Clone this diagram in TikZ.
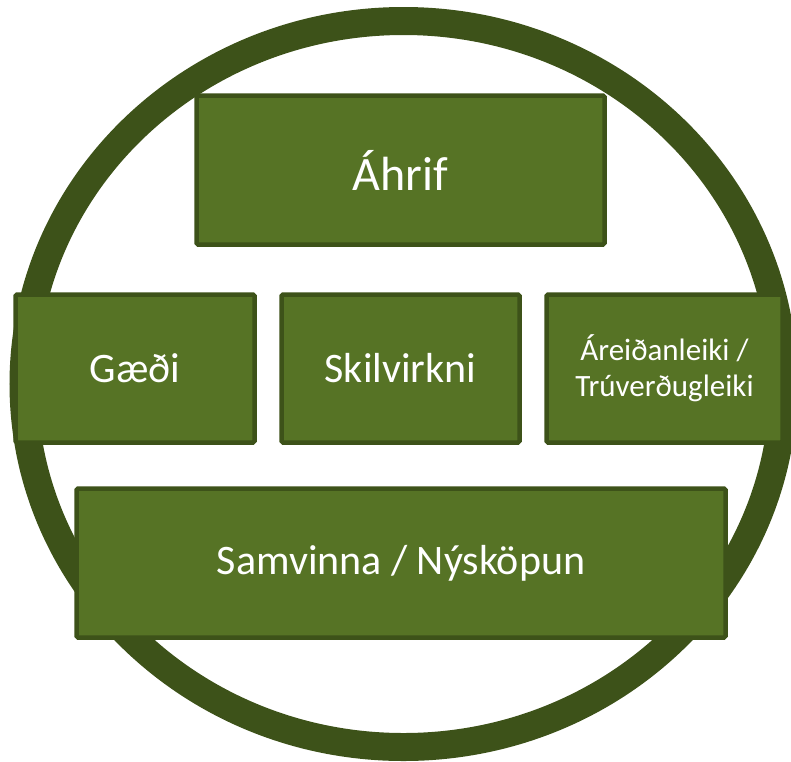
\documentclass[tikz,border=0pt]{standalone}
\usepackage{fontspec}
\setmainfont{Carlito}
\usepackage{xcolor}
\usepackage{tikz}
\definecolor{ringgreen}{HTML}{3D5219}
\definecolor{boxgreen}{HTML}{567325}
\definecolor{labwhite}{HTML}{FFFFFF}
\tikzset{
  ring/.style={draw=ringgreen, line width=28pt},
  box/.style={draw=ringgreen, fill=boxgreen, line width=4.5pt, rounded corners=1.5pt,
    text=labwhite, align=center, inner sep=0pt},
  labbig/.style={font=\fontsize{48}{56}\selectfont},
  labmid/.style={font=\fontsize{42}{50}\selectfont},
  labsmall/.style={font=\fontsize{31}{36}\selectfont}
}

\begin{document}
\begin{tikzpicture}[x=1pt, y=-1pt]
  \useasboundingbox (0,0) rectangle (791,761);

  \coordinate (O) at (403.5,384);
  \draw[ring] (O) ellipse [x radius=380pt, y radius=363pt];

  \node[box, labbig, minimum width=408pt, minimum height=149pt] (ahrif) at (400.5,170) {Áhrif};

  \node[box, labmid, minimum width=239pt, minimum height=148pt] (gaedi) at (135,368.5) {Gæði};
  \node[box, labmid, minimum width=238pt, minimum height=148pt] (skil) at (400.5,368.5) {Skilvirkni};
  \node[box, labsmall, minimum width=236pt, minimum height=148pt] (areid) at (664.5,368.5) {Áreiðanleiki /\\Trúverðugleiki};

  \node[box, labmid, minimum width=649pt, minimum height=149pt] (samv) at (401,563) {Samvinna / Nýsköpun};
\end{tikzpicture}
\end{document}
